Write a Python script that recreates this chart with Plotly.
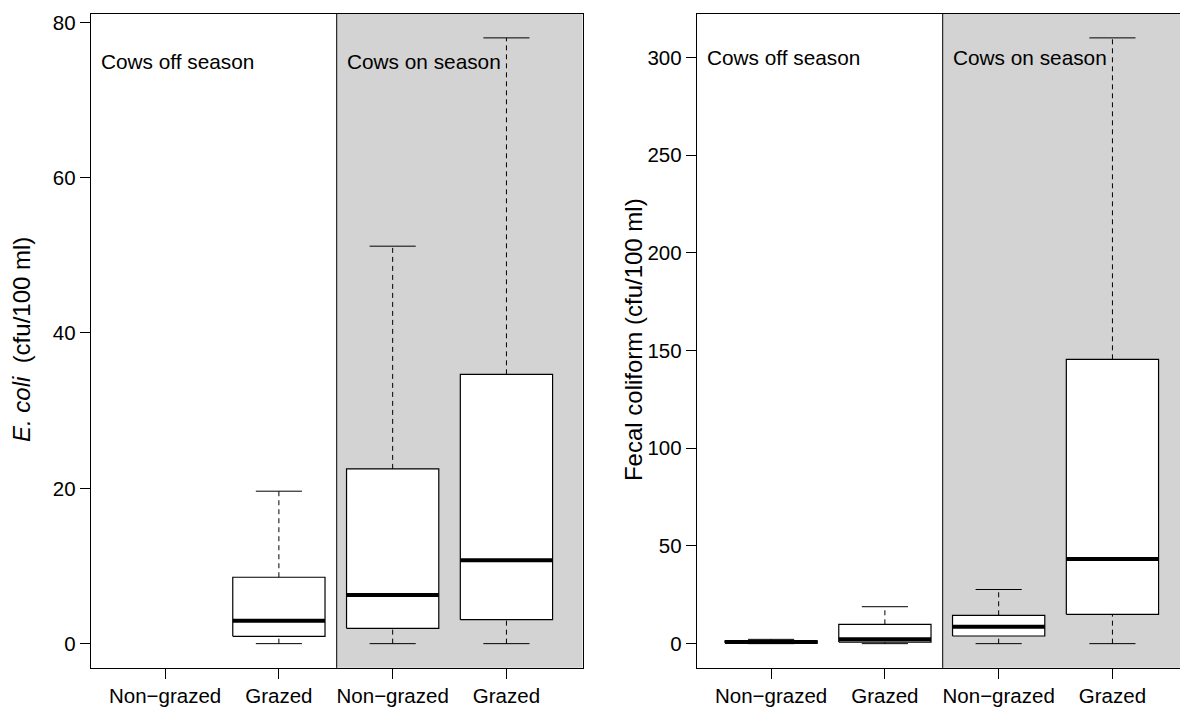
import plotly.graph_objects as go

# ---- data ----
groups = ["Non\u2212grazed", "Grazed", "Non\u2212grazed", "Grazed"]
positions = [1.105, 2.03, 2.955, 3.88]

ecoli_low = [None, 0.0, 0.0, 0.0]
ecoli_q1 = [None, 0.94, 1.97, 3.08]
ecoli_med = [None, 2.95, 6.25, 10.74]
ecoli_q3 = [None, 8.55, 22.5, 34.68]
ecoli_high = [None, 19.63, 51.18, 78.0]

fecal_low = [0.0, 0.0, 0.0, 0.0]
fecal_q1 = [0.3, 0.8, 3.9, 15.0]
fecal_med = [0.8, 2.2, 8.7, 43.3]
fecal_q3 = [1.4, 9.9, 14.5, 145.5]
fecal_high = [2.2, 18.9, 27.7, 310.0]

ecoli_ticks = [0, 20, 40, 60, 80]
fecal_ticks = [0, 50, 100, 150, 200, 250, 300]

season_labels = ["Cows off season", "Cows on season"]

# ---- style ----
FONT = "Liberation Sans, Arial, Helvetica, sans-serif"
BOX_W = 0.75
CAP_W = 0.375
GRAY = "#D3D3D3"
W, H = 1180, 708
PX_PER_UNIT = 123.0
left_x0, left_x1 = 90.7, 582.7
right_x0 = 696.7
right_x1_full = right_x0 + 4 * PX_PER_UNIT
y_top, y_bot = 10.7, 667.7


def box_traces(low, q1, med, q3, high, xa, ya):
    bx, by, mx, my, wx, wy, cx, cy = [], [], [], [], [], [], [], []
    for p, lo, a, m, b, hi in zip(positions, low, q1, med, q3, high):
        if m is None:
            continue
        l, r = p - BOX_W / 2, p + BOX_W / 2
        bx += [l, r, r, l, l, None]
        by += [a, a, b, b, a, None]
        mx += [l, r, None]
        my += [m, m, None]
        wx += [p, p, None, p, p, None]
        wy += [b, hi, None, lo, a, None]
        cl, cr = p - CAP_W / 2, p + CAP_W / 2
        cx += [cl, cr, None, cl, cr, None]
        cy += [hi, hi, None, lo, lo, None]
    common = dict(mode="lines", xaxis=xa, yaxis=ya, showlegend=False, hoverinfo="skip")
    return [
        go.Scatter(x=wx, y=wy, line=dict(color="black", width=1, dash="5px,4px"), **common),
        go.Scatter(x=cx, y=cy, line=dict(color="black", width=1), **common),
        go.Scatter(x=bx, y=by, fill="toself", fillcolor="white",
                   line=dict(color="black", width=1.2), **common),
        go.Scatter(x=mx, y=my, line=dict(color="black", width=4), **common),
    ]


fig = go.Figure()
for t in box_traces(ecoli_low, ecoli_q1, ecoli_med, ecoli_q3, ecoli_high, "x", "y"):
    fig.add_trace(t)
for t in box_traces(fecal_low, fecal_q1, fecal_med, fecal_q3, fecal_high, "x2", "y2"):
    fig.add_trace(t)

ydom = [(H - y_bot) / H, (H - y_top) / H]
right_range_end = 4.5 - (right_x1_full - W) / PX_PER_UNIT

axis_common = dict(showline=True, linecolor="black", linewidth=1, showgrid=False,
                   zeroline=False, ticks="outside", ticklen=10, tickcolor="black",
                   tickwidth=1, tickfont=dict(family=FONT, size=20.5, color="black"))

fig.update_layout(
    width=W, height=H,
    margin=dict(l=0, r=0, t=0, b=0),
    paper_bgcolor="white", plot_bgcolor="white",
    font=dict(family=FONT, color="black"),
    xaxis=dict(domain=[left_x0 / W, left_x1 / W], range=[0.5, 4.5], anchor="y",
               tickvals=positions, ticktext=groups, mirror=True, **axis_common),
    yaxis=dict(domain=ydom, range=[-0.04 * 78, 78 * 1.04], anchor="x",
               tickvals=ecoli_ticks, mirror=True, **axis_common),
    xaxis2=dict(domain=[right_x0 / W, 1.0], range=[0.5, right_range_end], anchor="y2",
                tickvals=positions, ticktext=groups, mirror=True, **axis_common),
    yaxis2=dict(domain=ydom, range=[-0.04 * 310, 310 * 1.04], anchor="x2",
                tickvals=fecal_ticks, mirror=False, **axis_common),
)

shapes = []
for xr, yr in [("x", "y"), ("x2", "y2")]:
    shapes.append(dict(type="rect", xref=xr, yref=f"{yr} domain", x0=2.5, x1=4.5,
                       y0=0, y1=1, fillcolor=GRAY, line=dict(width=0), layer="below"))
    shapes.append(dict(type="line", xref=xr, yref=f"{yr} domain", x0=2.5, x1=2.5,
                       y0=0, y1=1, line=dict(color="black", width=1), layer="above"))
fig.update_layout(shapes=shapes)

annos = []
for xr, yr, yv in [("x", "y", 75), ("x2", "y2", 300)]:
    for xv, lab in zip([0.5, 2.5], season_labels):
        annos.append(dict(x=xv, y=yv, xref=xr, yref=yr, text=lab, showarrow=False,
                          xanchor="left", yanchor="middle", xshift=8,
                          font=dict(family=FONT, size=20.8, color="black")))
annos.append(dict(x=21 / W, y=(H - 338.5) / H, xref="paper", yref="paper",
                  text="<i>E. coli</i>  (cfu/100 ml)", textangle=-90, showarrow=False,
                  xanchor="center", yanchor="middle",
                  font=dict(family=FONT, size=24, color="black")))
annos.append(dict(x=633 / W, y=(H - 338.5) / H, xref="paper", yref="paper",
                  text="Fecal coliform (cfu/100 ml)", textangle=-90, showarrow=False,
                  xanchor="center", yanchor="middle",
                  font=dict(family=FONT, size=24, color="black")))
fig.update_layout(annotations=annos)

fig.write_html("out.html")
